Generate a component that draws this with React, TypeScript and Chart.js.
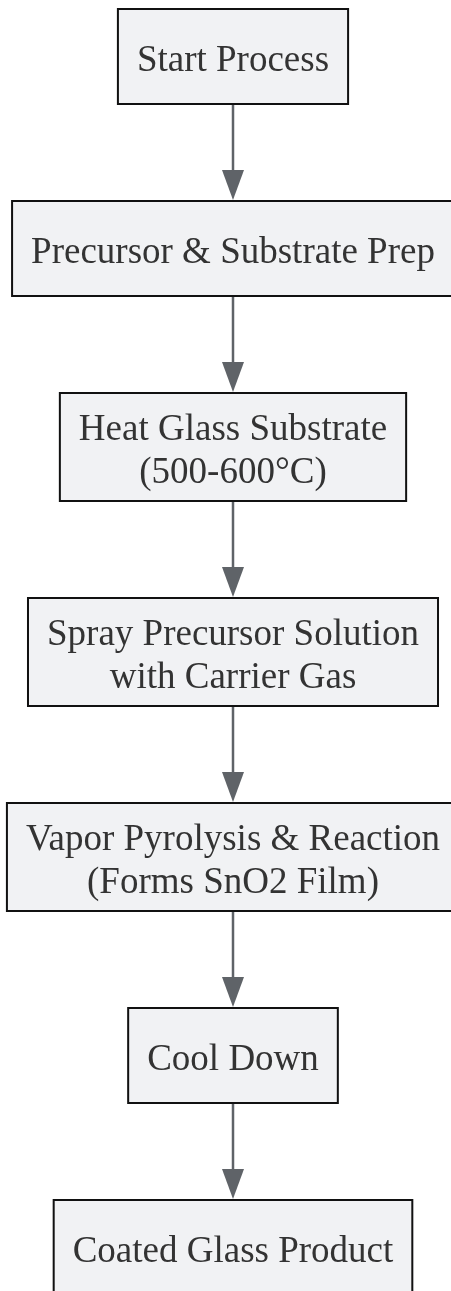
import React, { useEffect, useRef } from "react";
import { Chart, registerables } from "chart.js";

Chart.register(...registerables);

// ---- data ----
const STEP_LINES: string[][] = [
  ["Start Process"],
  ["Precursor & Substrate Prep"],
  ["Heat Glass Substrate", "(500-600°C)"],
  ["Spray Precursor Solution", "with Carrier Gas"],
  ["Vapor Pyrolysis & Reaction", "(Forms SnO2 Film)"],
  ["Cool Down"],
  ["Coated Glass Product"],
];
const EDGES: [number, number][] = [
  [0, 1],
  [1, 2],
  [2, 3],
  [3, 4],
  [4, 5],
  [5, 6],
];

// ---- layout constants ----
const W = 451;
const H = 1291;
const CENTER_X = 233;
const TOP = 8;
const GAP = 95;
const SINGLE_H = 97;
const EXTRA_LINE_H = 13;
const LINE_H = 43;
const PAD_X = 20;
const FONT = '37px "Liberation Serif", "DejaVu Serif", serif';

function boxHeight(lines: string[]) {
  return SINGLE_H + (lines.length - 1) * EXTRA_LINE_H;
}

function nodeCenters() {
  const out: { x: number; y: number }[] = [];
  let y = TOP;
  for (const lines of STEP_LINES) {
    const h = boxHeight(lines);
    out.push({ x: CENTER_X, y: y + h / 2 });
    y += h + GAP;
  }
  return out;
}

const flowPlugin = {
  id: "flowPlugin",
  afterDatasetsDraw(chart: any) {
    const ctx: CanvasRenderingContext2D = chart.ctx;
    const meta = chart.getDatasetMeta(0);
    const els = meta.data;
    ctx.save();
    ctx.font = FONT;
    const boxes = els.map((el: any, i: number) => {
      const lines = STEP_LINES[i];
      const tw = Math.max(...lines.map((l) => ctx.measureText(l).width));
      const w = tw + PAD_X * 2;
      const h = boxHeight(lines);
      return { x: el.x - w / 2, y: el.y - h / 2, w, h, cx: el.x, cy: el.y };
    });

    // arrows
    for (const [a, b] of EDGES) {
      const A = boxes[a];
      const B = boxes[b];
      const x = A.cx;
      const y0 = A.y + A.h;
      const tip = B.y;
      const headH = 30;
      const headW = 22;
      ctx.strokeStyle = "#5f6368";
      ctx.lineWidth = 2.5;
      ctx.beginPath();
      ctx.moveTo(x, y0);
      ctx.lineTo(x, tip - headH + 2);
      ctx.stroke();
      ctx.fillStyle = "#5f6368";
      ctx.beginPath();
      ctx.moveTo(x - headW / 2, tip - headH);
      ctx.lineTo(x + headW / 2, tip - headH);
      ctx.lineTo(x, tip);
      ctx.closePath();
      ctx.fill();
    }

    // boxes
    boxes.forEach((bx: any, i: number) => {
      ctx.fillStyle = "#f1f2f4";
      ctx.fillRect(bx.x, bx.y, bx.w, bx.h);
      ctx.strokeStyle = "#111111";
      ctx.lineWidth = 2;
      ctx.strokeRect(bx.x + 1, bx.y + 1, bx.w - 2, bx.h - 2);
      const lines = STEP_LINES[i];
      ctx.fillStyle = "#333333";
      ctx.textAlign = "center";
      ctx.textBaseline = "alphabetic";
      ctx.font = FONT;
      const n = lines.length;
      lines.forEach((l, k) => {
        const by = bx.cy + 14 + (k - (n - 1) / 2) * LINE_H;
        ctx.fillText(l, bx.cx, by);
      });
    });
    ctx.restore();
  },
};

export default function App() {
  const ref = useRef<HTMLCanvasElement | null>(null);
  useEffect(() => {
    if (!ref.current) return;
    const chart = new Chart(ref.current, {
      type: "scatter",
      data: {
        datasets: [
          {
            data: nodeCenters(),
            pointRadius: 0,
            pointHoverRadius: 0,
          },
        ],
      },
      options: {
        animation: false,
        responsive: false,
        maintainAspectRatio: false,
        devicePixelRatio: 1,
        layout: { padding: 0 },
        plugins: {
          legend: { display: false },
          tooltip: { enabled: false },
          title: { display: false },
        },
        events: [],
        scales: {
          x: { type: "linear", min: 0, max: W, display: false },
          y: { type: "linear", min: 0, max: H, reverse: true, display: false },
        },
      },
      plugins: [flowPlugin],
    });
    return () => chart.destroy();
  }, []);
  return (
    <div style={{ position: "absolute", left: 0, top: 0, width: W, height: H, background: "#ffffff" }}>
      <canvas ref={ref} width={W} height={H} style={{ display: "block", width: W, height: H }} />
    </div>
  );
}
